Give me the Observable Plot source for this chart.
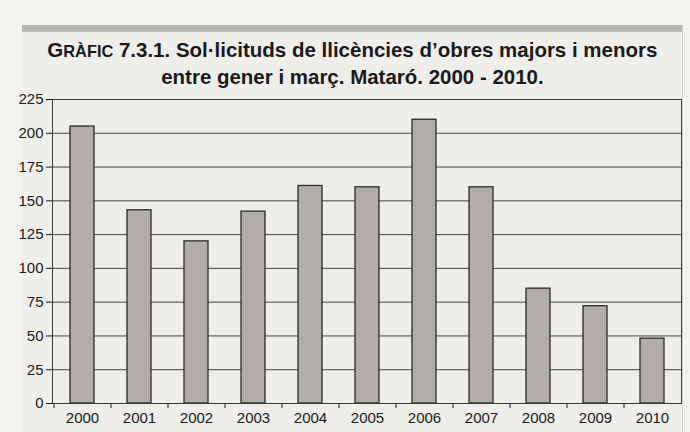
<!DOCTYPE html>
<html>
<head>
<meta charset="utf-8">
<script src="https://cdn.jsdelivr.net/npm/d3@7"></script>
<script src="https://cdn.jsdelivr.net/npm/@observablehq/plot@0.6"></script>
<style>
  html, body { margin: 0; padding: 0; background: #f3f2ef; width: 690px; height: 432px; overflow: hidden; }
  #box { position: absolute; left: 22px; top: 25px; width: 660px; height: 407px; background: #efeeeb; border-right: 1px solid #d2d0cc; }
  #band { position: absolute; left: 0; top: 0; width: 660px; height: 7px; background: #b9b7b3; }
  #title { position: absolute; left: 0; top: 12px; width: 660px; text-align: center;
    font-family: "Liberation Sans", Arial, sans-serif; font-weight: bold; font-size: 20.5px; line-height: 25px; color: #1a1a1a; }
  #title div { white-space: nowrap; }
  #title span.line { display: inline-block; transform-origin: center; }
  .sc { font-size: 0.8em; }
  #chart { position: absolute; left: 0; top: 90px; }
</style>
</head>
<body>
<div id="box"><div id="band"></div>
<div id="title"><div><span class="line" id="l1">G<span class="sc">RÀFIC</span> 7.3.1. Sol·licituds de llicències d’obres majors i menors</span></div><div><span class="line" id="l2">entre gener i març. Mataró. 2000 - 2010.</span></div></div>
</div>
<div id="chart"></div>
<script>
const years = ["2000","2001","2002","2003","2004","2005","2006","2007","2008","2009","2010"];
const values = [205, 143, 120, 142, 161, 160, 210, 160, 85, 72, 48];
const yTicks = [0, 25, 50, 75, 100, 125, 150, 175, 200, 225];

const data = years.map((y, i) => ({year: y, value: values[i]}));

// condense title to the reference width
const l1 = document.getElementById("l1"), l2 = document.getElementById("l2");
const k = 610 / l1.getBoundingClientRect().width;
l1.style.transform = `scaleX(${k})`;
l2.style.transform = `scaleX(${k})`;

const chart = Plot.plot({
  width: 690,
  height: 342,
  marginTop: 9,
  marginBottom: 29,
  marginLeft: 52,
  marginRight: 9,
  style: {background: "transparent", fontFamily: "Liberation Sans, Arial, sans-serif", fontSize: "15px", color: "#1a1a1a"},
  x: {domain: years, paddingInner: 0.58, paddingOuter: 0.29, label: null, tickSize: 5, tickPadding: 4},
  y: {domain: [0, 225], ticks: yTicks, label: null, tickSize: 6, tickPadding: 3, grid: false},
  marks: [
    Plot.ruleY(yTicks, {stroke: "#454545", strokeWidth: 1}),
    Plot.barY(data, {x: "year", y: "value", fill: "#b0ada9", stroke: "#2a2a2a", strokeWidth: 1.3}),
    Plot.frame({stroke: "#3a3a3a", strokeWidth: 1})
  ]
});
document.getElementById("chart").appendChild(chart);

// move x tick marks to band boundaries (between bars)
const xs = chart.scale("x");
const half = xs.step / 2;
d3.select(chart).selectAll("g[aria-label='x-axis'] .tick line, g[aria-label='x-axis tick'] path, g[aria-label='x-axis tick'] line")
  .attr("transform", function() {
    const t = d3.select(this).attr("transform") || "";
    return `translate(${-half},0) ` + t;
  });
d3.select(chart).selectAll("text").style("font-size", "15px");
</script>
</body>
</html>
